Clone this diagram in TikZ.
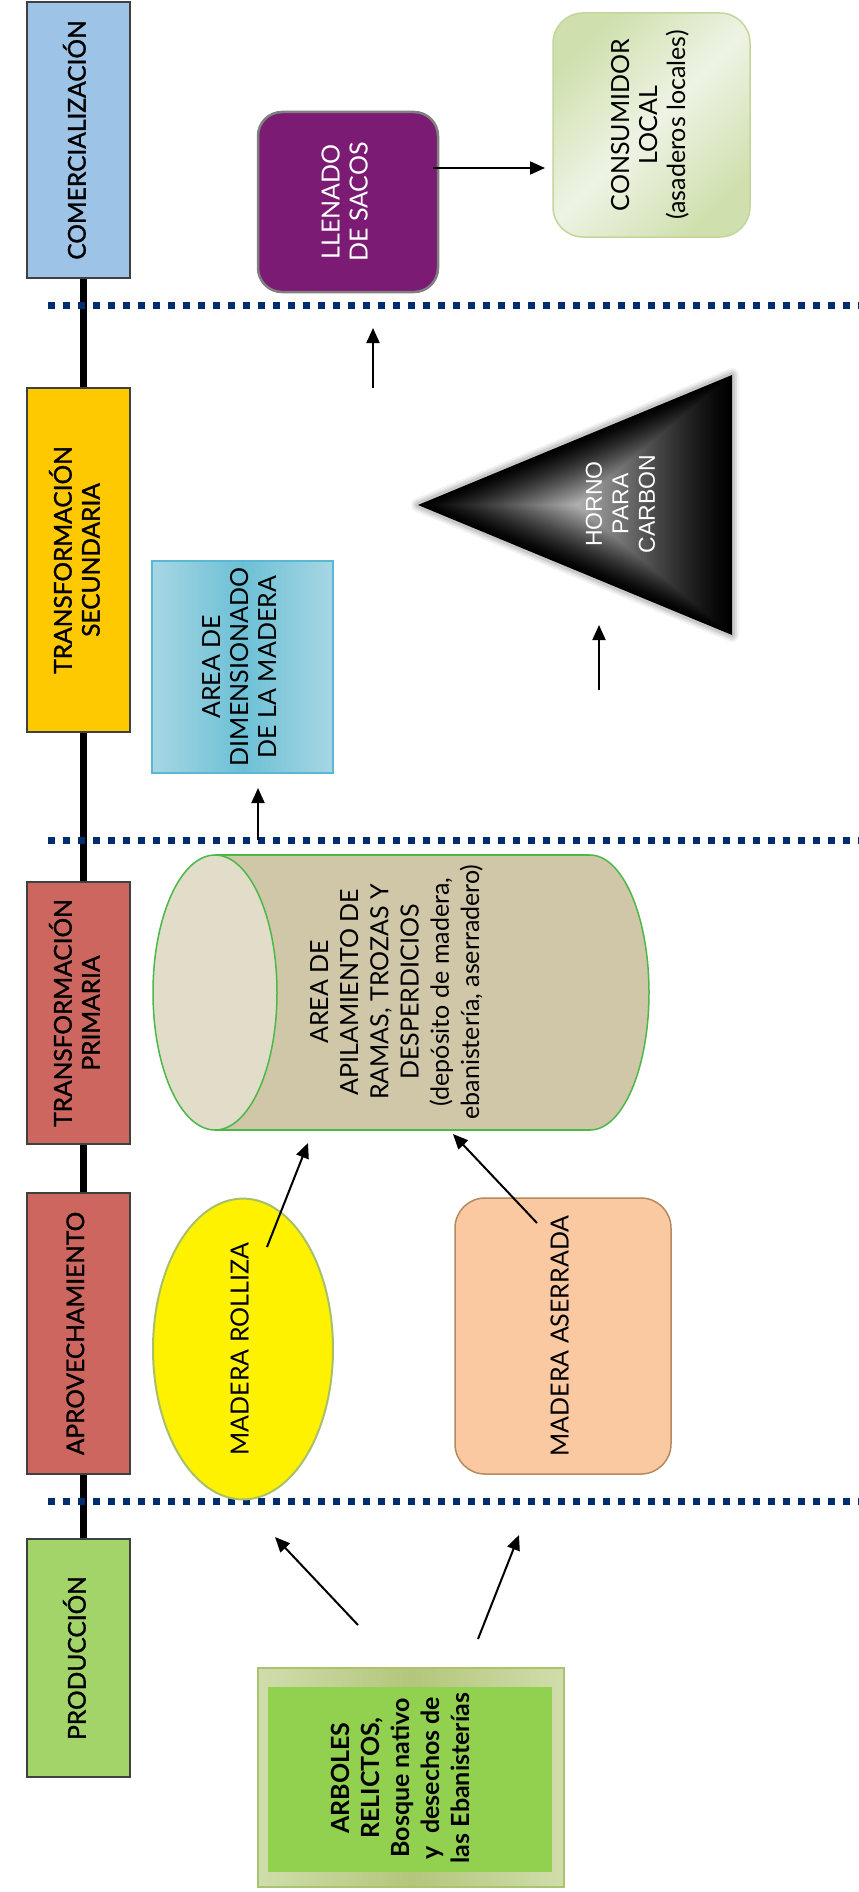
\documentclass[tikz,border=0pt]{standalone}
\usepackage{fontspec}
\usepackage{graphicx}
\setmainfont{Lato}
\newfontfamily\stagef{Lato}[FakeBold=1.2]
\newfontfamily\arialf{Liberation Sans}
\usetikzlibrary{arrows.meta,shapes.geometric,calc}
\definecolor{cCom}{HTML}{9DC3E6}
\definecolor{cSec}{HTML}{FFC901}
\definecolor{cRed}{HTML}{CD665F}
\definecolor{cPro}{HTML}{A2D46A}
\definecolor{cStB}{HTML}{404040}
\definecolor{cDot}{RGB}{0,45,110}
\definecolor{cPur}{HTML}{7B1B74}
\definecolor{cPurB}{HTML}{808080}
\definecolor{cCon1}{HTML}{CFE0AE}
\definecolor{cCon2}{HTML}{EEF3E4}
\definecolor{cConB}{HTML}{C3D69B}
\definecolor{cDim1}{HTML}{A7D6E3}
\definecolor{cDim2}{HTML}{6CC0D6}
\definecolor{cDimB}{HTML}{5BB8D3}
\definecolor{cCylBody}{HTML}{CFC7A7}
\definecolor{cCylCap}{HTML}{E1DDC9}
\definecolor{cCylB}{HTML}{4CB84A}
\definecolor{cRolB}{HTML}{A9C06B}
\definecolor{cAse}{HTML}{FAC9A1}
\definecolor{cAseB}{HTML}{B58A5F}
\definecolor{cArb1}{HTML}{D0DDAC}
\definecolor{cArb2}{HTML}{B3C67A}
\definecolor{cArbB}{HTML}{A9C46C}
\definecolor{cArbIn}{HTML}{92D050}
\newcommand\rtext[1]{\rotatebox{90}{\begin{tabular}{@{}c@{}}#1\end{tabular}}}
\begin{document}
\begin{tikzpicture}[x=1pt,y=-1pt,
  stagebox/.style={draw=cStB, line width=1.2pt, inner sep=0pt, minimum width=103pt,
    font=\stagef\fontsize{24.5}{28}\selectfont},
  txt/.style={font=\fontsize{25}{28}\selectfont},
  arr/.style={line width=2pt, -{Triangle[length=15pt,width=13pt]}},
  dotline/.style={line width=7pt, cDot, dash pattern=on 7pt off 8pt},
]
\useasboundingbox[fill=white] (0,0) rectangle (859,1892);

% timeline
\coordinate (tlTop) at (83.3,278);
\coordinate (tlBot) at (83.3,1539);
\draw[line width=7.3pt] (tlTop) -- (tlBot);

% stage boxes
\node[stagebox, fill=cCom, minimum height=276pt] (com) at (78.5,140) {\rtext{COMERCIALIZACIÓN}};
\node[stagebox, fill=cSec, minimum height=344pt] (sec) at (78.5,560) {\rtext{TRANSFORMACIÓN\\SECUNDARIA}};
\node[stagebox, fill=cRed, minimum height=262pt] (pri) at (78.5,1013) {\rtext{TRANSFORMACIÓN\\PRIMARIA}};
\node[stagebox, fill=cRed, minimum height=281pt] (apr) at (78.5,1333.5) {\rtext{APROVECHAMIENTO}};
\node[stagebox, fill=cPro, minimum height=238pt] (pro) at (78.5,1658) {\rtext{PRODUCCIÓN}};

% dotted separators
\draw[dotline] (48,305) -- (859,305);
\draw[dotline] (48,840) -- (859,840);
\draw[dotline] (48,1501) -- (859,1501);

% comercializacion
\node[draw=cPurB, line width=2.5pt, fill=cPur, rounded corners=24pt, minimum width=180pt, minimum height=180pt,
  inner sep=0pt, text=white, txt] (llen) at (348,202) {\rtext{LLENADO\\DE SACOS}};
\node[draw=cConB, line width=1.5pt, rounded corners=30pt, minimum width=197pt, minimum height=224pt, inner sep=0pt,
  top color=cCon1, bottom color=cCon1, shading angle=45, middle color=cCon2, txt] (cons) at (651.5,125)
  {\rtext{CONSUMIDOR\\LOCAL\\(asaderos locales)}};

% dimensionado
\node[draw=cDimB, line width=2pt, minimum width=181pt, minimum height=212pt, inner sep=0pt,
  left color=cDim1, right color=cDim1, middle color=cDim2, txt] (dim) at (242.5,667)
  {\rtext{AREA DE\\DIMENSIONADO\\DE LA MADERA}};

% horno triangle (shape-following gradient)
\coordinate (tc) at (577,505);
\coordinate (tv1) at (418,505);
\coordinate (tv2) at (732,375);
\coordinate (tv3) at (732,635);
\foreach \w/\o in {14/0.05, 10/0.07, 6/0.1}
  \draw[line width=\w pt, black, opacity=\o, line join=round] (tv1) -- (tv2) -- (tv3) -- cycle;
\foreach \i in {0,...,59} {
  \pgfmathsetmacro\k{1-\i/60}
  \pgfmathsetmacro\g{70*(1-\k)^1.25}
  \fill[white!\g!black] ($(tc)!\k!(tv1)$) -- ($(tc)!\k!(tv2)$) -- ($(tc)!\k!(tv3)$) -- cycle;
}
\node[text=white, font=\arialf\fontsize{23}{26.5}\selectfont, inner sep=0pt] (horno) at (623,504)
  {\rtext{HORNO\\PARA\\CARBON}};

% cylinder
\fill[cCylBody] (215,855) rectangle (590,1130);
\fill[cCylBody] (590,992.5) ellipse [x radius=59, y radius=137.5];
\begin{scope}
  \clip (590,840) rectangle (670,1145);
  \draw[cCylB, line width=1.5pt] (590,992.5) ellipse [x radius=59, y radius=137.5];
\end{scope}
\draw[cCylB, line width=1.5pt] (215,855) -- (590,855);
\draw[cCylB, line width=1.5pt] (215,1130) -- (590,1130);
\filldraw[fill=cCylCap, draw=cCylB, line width=1.5pt] (215,992.5) ellipse [x radius=62, y radius=137.5];
\node[font=\fontsize{25}{30.2}\selectfont, inner sep=0pt] (cyl) at (397.5,992)
  {\rtext{AREA DE\\APILAMIENTO DE\\RAMAS, TROZAS Y\\DESPERDICIOS\\(depósito de madera,\\ebanistería, aserradero)}};

% aprovechamiento
\node[ellipse, draw=cRolB, line width=2pt, fill=yellow, minimum width=180pt, minimum height=278pt, inner sep=0pt, txt]
  (rol) at (243,1349) {\rtext{MADERA ROLLIZA}};
\node[draw=cAseB, line width=1.5pt, fill=cAse, rounded corners=30pt, minimum width=216pt, minimum height=276pt,
  inner sep=0pt, txt] (ase) at (563,1336) {\rtext{MADERA ASERRADA}};

% produccion
\node[draw=cArbB, line width=2pt, minimum width=306pt, minimum height=219pt, inner sep=0pt,
  left color=cArb1, right color=cArb1, middle color=cArb2] (arbout) at (411,1777.5) {};
\node[fill=cArbIn, minimum width=284pt, minimum height=185pt, inner sep=0pt] (arbin) at (410,1779.5) {};
\node[font=\bfseries\fontsize{25}{30}\selectfont, inner sep=0pt] (arb) at (403,1778)
  {\rtext{ARBOLES\\RELICTOS,\\Bosque nativo\\y~ desechos de\\las Ebanisterías}};

% arrows
\coordinate (a1s) at (358,1625); \coordinate (a1e) at (275,1537);
\coordinate (a2s) at (478,1639); \coordinate (a2e) at (519,1535);
\coordinate (a3s) at (267,1247); \coordinate (a3e) at (308,1143);
\coordinate (a4s) at (537,1223); \coordinate (a4e) at (453,1134);
\coordinate (a5s) at (258,840);  \coordinate (a5e) at (258,788);
\coordinate (a6s) at (599,690);  \coordinate (a6e) at (599,625);
\coordinate (a7s) at (373,388);  \coordinate (a7e) at (373,328);
\coordinate (a8s) at (433,168);  \coordinate (a8e) at (545,168);
\draw[arr] (a1s) -- (a1e);
\draw[arr] (a2s) -- (a2e);
\draw[arr] (a3s) -- (a3e);
\draw[arr] (a4s) -- (a4e);
\draw[arr] (a5s) -- (a5e);
\draw[arr] (a6s) -- (a6e);
\draw[arr] (a7s) -- (a7e);
\draw[arr] (a8s) -- (a8e);
\end{tikzpicture}
\end{document}
